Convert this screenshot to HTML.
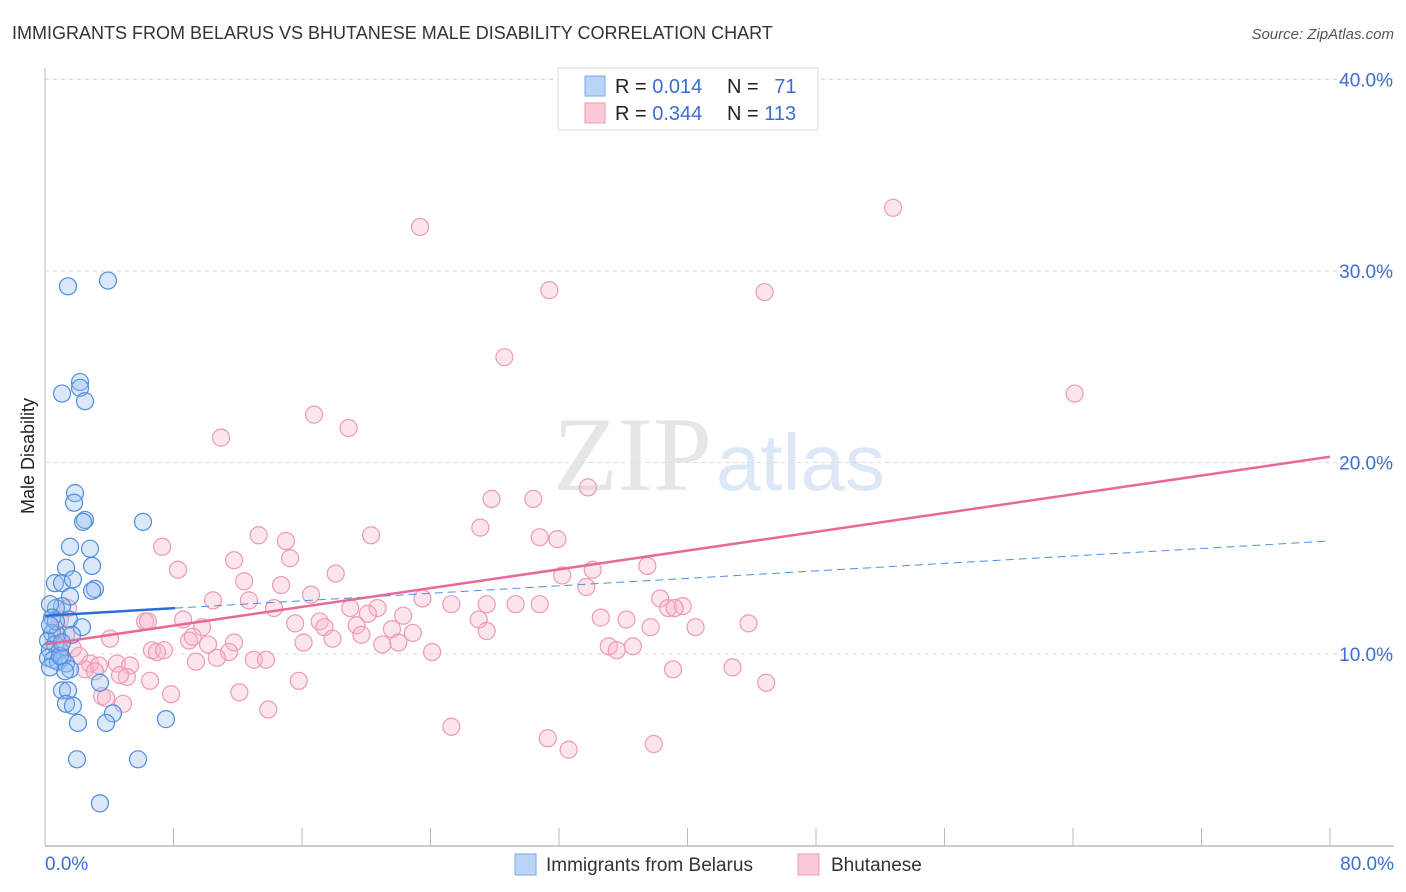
<!DOCTYPE html>
<html><head><meta charset="utf-8">
<style>
body{margin:0;background:#fff;font-family:"Liberation Sans",sans-serif;}
svg{display:block}
</style></head>
<body>
<svg id="chart" width="1406" height="892" xmlns="http://www.w3.org/2000/svg">
<text x="12" y="39" font-size="18" fill="#333">IMMIGRANTS FROM BELARUS VS BHUTANESE MALE DISABILITY CORRELATION CHART</text>
<text x="1394" y="39" font-size="15" fill="#555" font-style="italic" text-anchor="end">Source: ZipAtlas.com</text>
<text transform="translate(34,456) rotate(-90)" font-size="18" fill="#222" text-anchor="middle">Male Disability</text>
<g>
<text x="553" y="490" font-family="Liberation Serif,serif" font-size="106" fill="#e6e6e6">ZIP</text>
<text x="716" y="490" font-size="80" fill="#dde8f7">atlas</text>
</g>
<g id="grid"></g>
<g id="axes"></g>
<g id="pinkG"></g>
<g id="blueG"></g>
<g id="trends"></g>
<g>
<rect x="558" y="68" width="260" height="62" fill="#fff" stroke="#ddd"/>
<rect x="585" y="76" width="20" height="20" fill="#b9d4f7" stroke="#7aaae8"/>
<rect x="585" y="103" width="20" height="20" fill="#fbc9d7" stroke="#ee9ab3"/>
<text x="615" y="93" font-size="20" fill="#222">R = <tspan fill="#3a6fd0">0.014</tspan></text>
<text x="727" y="93" font-size="20" fill="#222">N = <tspan fill="#3a6fd0" dx="10">71</tspan></text>
<text x="615" y="120" font-size="20" fill="#222">R = <tspan fill="#3a6fd0">0.344</tspan></text>
<text x="727" y="120" font-size="20" fill="#222">N = <tspan fill="#3a6fd0">113</tspan></text>
</g>
<g>
<rect x="515" y="854" width="21" height="21" fill="#b9d4f7" stroke="#7aaae8"/>
<text x="546" y="871" font-size="19" fill="#333">Immigrants from Belarus</text>
<rect x="798" y="854" width="21" height="21" fill="#fbc9d7" stroke="#ee9ab3"/>
<text x="831" y="871" font-size="19" fill="#333">Bhutanese</text>
</g>
</svg>
<script>
const yTicks=[10,20,30,40];
const yTickLabels=["10.0%","20.0%","30.0%","40.0%"];
const xTickLabels=["0.0%","80.0%"];
const blueX=[1.43,3.92,1.06,2.18,2.18,2.49,1.87,1.81,2.49,2.37,6.1,1.56,2.8,2.93,1.31,3.11,2.93,0.62,1.06,1.74,1.56,1.06,0.68,0.31,1.49,2.3,0.44,0.44,0.75,0.19,0.62,0.93,0.31,0.19,0.5,0.81,1.06,1.31,1.56,1.25,0.31,1.06,1.43,3.42,1.31,1.74,2.05,4.23,3.8,7.53,1.99,5.79,3.42,0.93,1.68,0.68,0.31,1.06];
const blueY=[29.2,29.5,23.6,24.2,23.9,23.2,18.4,17.9,17.0,16.9,16.9,15.6,15.5,14.6,14.5,13.4,13.3,13.7,13.7,13.9,13.0,12.5,12.4,12.6,11.8,11.4,11.9,11.1,11.0,10.7,10.5,10.2,10.2,9.8,9.7,9.6,9.8,9.5,9.2,9.1,9.3,8.1,8.1,8.5,7.4,7.3,6.4,6.9,6.4,6.6,4.5,4.5,2.2,9.9,11.0,11.7,11.5,10.6];
const pinkX=[52.8,23.35,31.4,44.8,28.6,64.1,16.75,18.9,10.96,27.8,30.4,33.8,27.1,13.3,15.0,20.3,30.8,31.9,7.29,15.26,11.77,8.28,18.1,32.2,34.1,37.5,12.4,14.7,33.7,10.46,12.7,16.56,23.5,38.3,25.3,27.5,29.3,30.8,20.7,19.0,20.1,14.26,38.8,39.7,39.2,22.3,8.6,34.6,36.2,27.0,6.23,15.57,17.1,19.4,9.78,43.8,37.7,40.5,17.4,21.6,22.9,27.5,8.97,9.2,4.05,11.77,16.1,17.9,19.7,10.15,21.0,22.0,24.1,35.1,35.6,36.6,6.66,6.97,7.41,11.46,10.7,1.0,1.74,2.12,0.62,1.31,0.93,1.43,2.8,2.49,3.36,4.48,5.29,13.0,13.76,9.4,39.1,42.8,5.1,4.67,3.11,15.8,44.9,3.55,3.8,4.86,7.85,12.1,13.9,25.3,31.3,32.6,37.9,6.54,6.41];
const pinkY=[33.3,32.3,29.0,28.9,25.5,23.6,22.5,21.8,21.3,18.1,18.1,18.7,16.6,16.2,15.9,16.2,16.1,16.0,15.6,15.0,14.9,14.4,14.2,14.1,14.4,14.6,13.8,13.6,13.5,12.8,12.8,13.1,12.9,12.9,12.6,12.6,12.6,12.6,12.4,12.4,12.1,12.4,12.4,12.5,12.4,12.0,11.8,11.9,11.8,11.8,11.7,11.6,11.7,11.5,11.4,11.6,11.4,11.4,11.4,11.3,11.1,11.2,10.7,10.9,10.8,10.6,10.6,10.8,11.0,10.5,10.5,10.6,10.1,10.4,10.2,10.4,10.2,10.1,10.2,10.1,9.8,10.5,10.3,9.9,11.3,11.0,11.8,12.4,9.5,9.2,9.4,9.5,9.4,9.7,9.7,9.6,9.2,9.3,8.8,8.9,9.1,8.6,8.5,7.8,7.7,7.4,7.9,8.0,7.1,6.2,5.6,5.0,5.3,8.6,11.7];
const blueTrend=[12.0,15.9];
const blueSolidEnd=8.1;
const pinkTrend=[10.5,20.3];

const X0=45,X1=1330,Y0=845.5,PXPER=19.15;
const sx=v=>X0+(X1-X0)*v/80;
const sy=v=>Y0-PXPER*v;
const NS="http://www.w3.org/2000/svg";
function mk(tag,attrs,parent){const e=document.createElementNS(NS,tag);for(const k in attrs)e.setAttribute(k,attrs[k]);parent.appendChild(e);return e;}
const gridG=document.getElementById('grid'),axesG=document.getElementById('axes');
yTicks.forEach((t,i)=>{
  const g=mk('line',{x1:X0,x2:1394,y1:sy(t),y2:sy(t),stroke:'#ddd','stroke-dasharray':'4,4'},gridG);
  
  
  const tx=mk('text',{x:1393,y:sy(t)+7,'font-size':19,fill:'#3a6fd0','text-anchor':'end'},axesG);
  tx.textContent=yTickLabels[i];
  
  
});
const topLine=mk('line',{x1:X0,x2:1394,y1:79,y2:79,stroke:'#ddd','stroke-dasharray':'4,4'},gridG);


const yAxisLine=mk('line',{x1:X0,x2:X0,y1:68,y2:846,stroke:'#bbb'},axesG);


const xAxisLine=mk('line',{x1:X0,x2:1394,y1:846,y2:846,stroke:'#bbb','stroke-width':1.5},axesG);


for(let i=1;i<=10;i++){
  const tk=mk('line',{x1:sx(i*8),x2:sx(i*8),y1:828,y2:846,stroke:'#bbb'},axesG);
  
  
}
const xl0=mk('text',{x:45,y:870,'font-size':19,fill:'#3a6fd0'},axesG);xl0.textContent=xTickLabels[0];


const xl1=mk('text',{x:1394,y:870,'font-size':19,fill:'#3a6fd0','text-anchor':'end'},axesG);xl1.textContent=xTickLabels[1];



const pinkGroup=document.getElementById('pinkG');
pinkX.forEach((x,i)=>{
  const c=mk('circle',{cx:sx(x),cy:sy(pinkY[i]),r:8.5,fill:'rgba(248,180,200,0.35)',stroke:'#ee9ab3','stroke-width':1.2},pinkGroup);
  
  
});
const blueGroup=document.getElementById('blueG');
blueX.forEach((x,i)=>{
  const c=mk('circle',{cx:sx(x),cy:sy(blueY[i]),r:8.5,fill:'rgba(150,190,240,0.35)',stroke:'#4f8ddf','stroke-width':1.2},blueGroup);
  
  
});
const trG=document.getElementById('trends');
const bAt=x=>blueTrend[0]+(blueTrend[1]-blueTrend[0])*x/80;
const l1=mk('line',{x1:sx(0),y1:sy(bAt(0)),x2:sx(blueSolidEnd),y2:sy(bAt(blueSolidEnd)),stroke:'#2a6fd6','stroke-width':2.5},trG);


const l2=mk('line',{x1:sx(blueSolidEnd),y1:sy(bAt(blueSolidEnd)),x2:sx(80),y2:sy(bAt(80)),stroke:'#4f8ddf','stroke-width':1,'stroke-dasharray':'8,5'},trG);


const l3=mk('line',{x1:sx(0),y1:sy(pinkTrend[0]),x2:sx(80),y2:sy(pinkTrend[1]),stroke:'#e8689a','stroke-width':2.5},trG);


</script>
</body></html>
